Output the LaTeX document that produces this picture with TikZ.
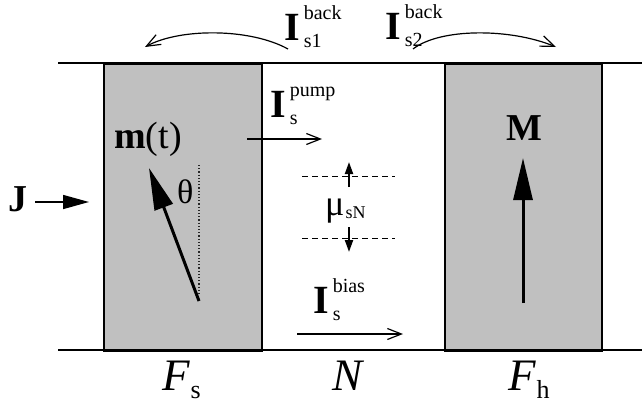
\documentclass[tikz,border=0pt]{standalone}
\usepackage{fontspec}
\setmainfont{Liberation Serif}
\usetikzlibrary{arrows.meta}
\definecolor{boxgray}{HTML}{C0C0C0}
\newcommand{\Ilab}[2]{{\fontsize{40}{40}\selectfont\bfseries I}\kern4pt{\fontsize{20}{20}\selectfont\rlap{\raisebox{21pt}{#1}}\raisebox{-7pt}{#2}}}
\newcommand{\Flab}[2]{{\fontsize{45}{45}\selectfont\itshape #1}\kern1pt{\fontsize{26}{26}\selectfont\raisebox{-8pt}{#2}}}
\begin{document}
\begin{tikzpicture}[x=1pt,y=-1pt,
  layer/.style={draw=black, line width=1.5pt, fill=boxgray, inner sep=0pt, minimum width=158pt, minimum height=287pt, anchor=north west},
  rail/.style={line width=2pt},
  lbl/.style={anchor=base west, inner sep=0pt},
  thinarrow/.style={line width=1.2pt, -{Straight Barb[length=14pt,width=11pt]}},
  bigarrow/.style={line width=3pt, -{Triangle[length=42pt,width=19pt]}},
  jarrow/.style={line width=1.5pt, -{Triangle[length=26pt,width=14pt]}},
  smallarrow/.style={line width=2pt, -{Triangle[length=12pt,width=8pt]}},
  level/.style={line width=1pt, dash pattern=on 6pt off 4pt},
]
\useasboundingbox (0,0) rectangle (642,407);
% layers
\node[layer] (Fsbox) at (103,63) {};
\node[layer, minimum width=157pt] (Fhbox) at (444,63) {};
% rails
\coordinate (tl) at (58,63); \coordinate (tr) at (642,63);
\coordinate (bl) at (58,350); \coordinate (br) at (642,350);
\draw[rail] (tl) -- (tr);
\draw[rail] (bl) -- (br);
% back currents
\node[lbl] (Ib1) at (284,40) {\Ilab{back}{s1}};
\node[lbl] (Ib2) at (385,39) {\Ilab{back}{s2}};
\coordinate (b1s) at (288,49); \coordinate (b1e) at (145,47);
\coordinate (b2s) at (413,49); \coordinate (b2e) at (556,47);
\draw[thinarrow] (b1s) .. controls (250,28) and (180,28) .. (b1e);
\draw[thinarrow] (b2s) .. controls (440,28) and (510,28) .. (b2e);
% J
\node[lbl] (J) at (8,211) {\fontsize{38}{38}\selectfont\bfseries J};
\coordinate (js) at (35,202); \coordinate (je) at (89,202);
\draw[jarrow] (js) -- (je);
% m(t)
\node[lbl] (mt) at (114,148) {\fontsize{38}{38}\selectfont\textbf{m}(t)};
\node[lbl] (th) at (177,203) {\fontsize{34}{34}\selectfont θ};
\coordinate (d1) at (199,165); \coordinate (d2) at (199,296);
\draw[line width=1.2pt, dotted, black!85] (d1) -- (d2);
\coordinate (ms) at (199,301); \coordinate (me) at (149,168);
\draw[bigarrow] (ms) -- (me);
% pump
\node[lbl] (Ip) at (270,117) {\Ilab{pump}{s}};
\coordinate (ps) at (247,139); \coordinate (pe) at (322,139);
\draw[thinarrow] (ps) -- (pe);
% spin accumulation
\coordinate (l1a) at (302,176); \coordinate (l1b) at (395,176);
\coordinate (l2a) at (302,238); \coordinate (l2b) at (395,238);
\draw[level] (l1a) -- (l1b);
\draw[level] (l2a) -- (l2b);
\coordinate (ua) at (349,187); \coordinate (ub) at (349,162);
\coordinate (da) at (349,227); \coordinate (db) at (349,252);
\draw[smallarrow] (ua) -- (ub);
\draw[smallarrow] (da) -- (db);
\node[lbl] (mu) at (325,215) {\fontsize{36}{36}\selectfont μ\kern1pt\raisebox{-3pt}{\fontsize{18}{18}\selectfont sN}};
% bias
\node[lbl] (Ibias) at (313,313) {\Ilab{bias}{s}};
\coordinate (bs) at (297,334); \coordinate (be) at (403,334);
\draw[thinarrow] (bs) -- (be);
% M
\node[lbl] (M) at (506,140) {\fontsize{38}{38}\selectfont\bfseries M};
\coordinate (Ms) at (523,303); \coordinate (Me) at (523,158);
\draw[bigarrow] (Ms) -- (Me);
% bottom labels
\node[lbl] (Fs) at (162,390) {\Flab{F}{s}};
\node[lbl] (N) at (332,390) {\fontsize{45}{45}\selectfont\itshape N};
\node[lbl] (Fh) at (508,390) {\Flab{F}{h}};
\end{tikzpicture}
\end{document}
